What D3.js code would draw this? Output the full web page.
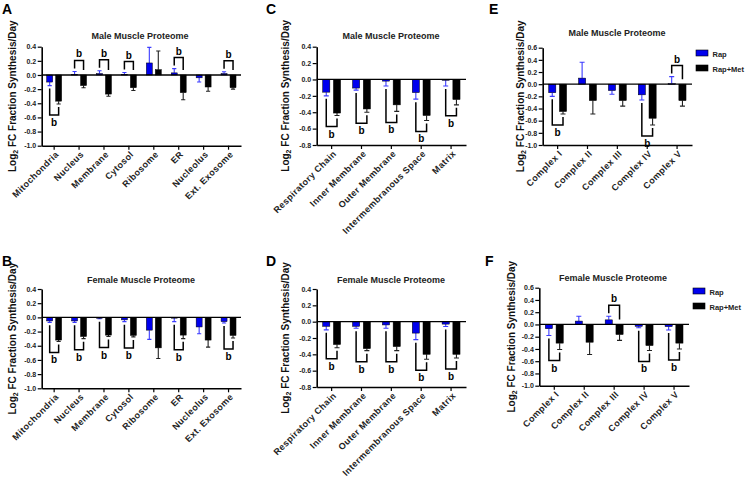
<!DOCTYPE html>
<html>
<head>
<meta charset="utf-8">
<script src="https://cdn.jsdelivr.net/npm/d3@7"></script>
<style>
body { margin: 0; background: #fff; }
svg { font-family: "Liberation Sans", Arial, sans-serif; }
</style>
</head>
<body>
<div id="chart"></div>
<script>

// categories
const organelles = ["Mitochondria", "Nucleus", "Membrane", "Cytosol", "Ribosome", "ER", "Nucleolus", "Ext. Exosome"]
const mitoParts = ["Respiratory Chain", "Inner Membrane", "Outer Membrane", "Intermembranous Space", "Matrix"]
const complexes = ["Complex I", "Complex II", "Complex III", "Complex IV", "Complex V"]
const seriesNames = ["Rap", "Rap+Met"]

// A - male, organelles
const maleOrgRap = [-0.10, 0.01, 0.02, 0.01, 0.17, 0.03, -0.04, 0.02]
const maleOrgRapErr = [0.05, 0.04, 0.04, 0.025, 0.22, 0.06, 0.06, 0.025]
const maleOrgMet = [-0.37, -0.15, -0.27, -0.18, 0.075, -0.25, -0.17, -0.18]
const maleOrgMetErr = [0.04, 0.03, 0.03, 0.04, 0.265, 0.10, 0.06, 0.02]
const maleOrgSig = [1, 1, 1, 1, 0, 1, 0, 1]

// B - female, organelles
const femOrgRap = [-0.05, -0.05, -0.01, -0.035, -0.18, -0.01, -0.135, -0.06]
const femOrgRapErr = [0.02, 0.02, 0.01, 0.025, 0.13, 0.05, 0.095, 0.02]
const femOrgMet = [-0.32, -0.27, -0.25, -0.255, -0.43, -0.25, -0.32, -0.255]
const femOrgMetErr = [0.02, 0.03, 0.02, 0.02, 0.15, 0.05, 0.10, 0.035]
const femOrgSig = [1, 1, 1, 1, 0, 1, 0, 1]

// C - male, mitochondrial compartments
const maleMitoRap = [-0.155, -0.105, -0.02, -0.16, -0.01]
const maleMitoRapErr = [0.045, 0.025, 0.06, 0.08, 0.07]
const maleMitoMet = [-0.41, -0.36, -0.31, -0.44, -0.245]
const maleMitoMetErr = [0.03, 0.04, 0.08, 0.06, 0.065]
const maleMitoSig = [1, 1, 1, 1, 1]

// D - female, mitochondrial compartments
const femMitoRap = [-0.057, -0.057, -0.04, -0.14, -0.03]
const femMitoRapErr = [0.043, 0.023, 0.04, 0.08, 0.03]
const femMitoMet = [-0.28, -0.33, -0.305, -0.40, -0.40]
const femMitoMetErr = [0.04, 0.025, 0.05, 0.06, 0.045]
const femMitoSig = [1, 1, 1, 1, 1]

// E - male, ETC complexes
const maleCxRap = [-0.14, 0.10, -0.105, -0.175, 0.01]
const maleCxRapErr = [0.06, 0.26, 0.06, 0.085, 0.115]
const maleCxMet = [-0.45, -0.27, -0.27, -0.56, -0.27]
const maleCxMetErr = [0.04, 0.22, 0.09, 0.11, 0.09]
const maleCxSig = [1, 0, 0, 1, 1]

// F - female, ETC complexes
const femCxRap = [-0.07, 0.055, 0.075, -0.03, -0.035]
const femCxRapErr = [0.11, 0.08, 0.06, 0.025, 0.055]
const femCxMet = [-0.305, -0.29, -0.165, -0.345, -0.305]
const femCxMetErr = [0.105, 0.20, 0.095, 0.08, 0.095]
const femCxSig = [1, 0, 1, 1, 1]

const blue = "#0000ee"
const blueErr = "#3c3cff"

const svg = d3.select("#chart").append("svg")
    .attr("width", 746)
    .attr("height", 479)

const panels = [
    {letter: "A", lx: 2, ly: 14, title: "Male Muscle Proteome", tx: 140, ty: 39,
     cats: organelles, rap: maleOrgRap, rapErr: maleOrgRapErr, met: maleOrgMet, metErr: maleOrgMetErr, sig: maleOrgSig,
     x0: 41.7, x1: 241, yTop: 46.7, yBot: 145.7, lo: -1.0, hi: 0.4, labX: 16},
    {letter: "B", lx: 2, ly: 266, title: "Female Muscle Proteome", tx: 141, ty: 283,
     cats: organelles, rap: femOrgRap, rapErr: femOrgRapErr, met: femOrgMet, metErr: femOrgMetErr, sig: femOrgSig,
     x0: 41.7, x1: 241, yTop: 289, yBot: 388.3, lo: -1.0, hi: 0.4, labX: 16},
    {letter: "C", lx: 266, ly: 14, title: "Male Muscle Proteome", tx: 391, ty: 39,
     cats: mitoParts, rap: maleMitoRap, rapErr: maleMitoRapErr, met: maleMitoMet, metErr: maleMitoMetErr, sig: maleMitoSig,
     x0: 316.7, x1: 466, yTop: 46.7, yBot: 145, lo: -0.8, hi: 0.4, labX: 289},
    {letter: "D", lx: 266, ly: 266, title: "Female Muscle Proteome", tx: 391, ty: 283,
     cats: mitoParts, rap: femMitoRap, rapErr: femMitoRapErr, met: femMitoMet, metErr: femMitoMetErr, sig: femMitoSig,
     x0: 316.7, x1: 466, yTop: 289, yBot: 387, lo: -0.8, hi: 0.4, labX: 289},
    {letter: "E", lx: 489, ly: 14, title: "Male Muscle Proteome", tx: 617, ty: 36,
     cats: complexes, rap: maleCxRap, rapErr: maleCxRapErr, met: maleCxMet, metErr: maleCxMetErr, sig: maleCxSig,
     x0: 542.7, x1: 692, yTop: 47.7, yBot: 145, lo: -1.0, hi: 0.6, labX: 524,
     legend: {x: 696, y: 50}},
    {letter: "F", lx: 485, ly: 266, title: "Female Muscle Proteome", tx: 613, ty: 281,
     cats: complexes, rap: femCxRap, rapErr: femCxRapErr, met: femCxMet, metErr: femCxMetErr, sig: femCxSig,
     x0: 539.3, x1: 689, yTop: 287.7, yBot: 385.7, lo: -1.0, hi: 0.6, labX: 515,
     legend: {x: 693, y: 288}}
]

const drawPanel = function(p) {
    const g = svg.append("g")

    const x = d3.scaleBand().domain(p.cats).range([p.x0, p.x1])
    const y = d3.scaleLinear().domain([p.lo, p.hi]).range([p.yBot, p.yTop])
    const bw = x.bandwidth()
    const w = bw * 0.24, gap = bw * 0.12

    g.append("text")
        .attr("x", p.lx).attr("y", p.ly)
        .style("font-size", "14px").style("font-weight", "bold")
        .text(p.letter)

    g.append("text")
        .attr("x", p.tx).attr("y", p.ty)
        .attr("text-anchor", "middle")
        .style("font-size", "9px").style("font-weight", "bold").style("fill", "#222")
        .text(p.title)

    // y axis label with subscript
    const yl = g.append("text")
        .attr("transform", "translate(" + p.labX + "," + ((p.yTop + p.yBot) / 2) + ") rotate(-90)")
        .attr("text-anchor", "middle")
        .style("font-size", "10px").style("font-weight", "bold").style("fill", "#111")
    yl.append("tspan").text("Log")
    yl.append("tspan").attr("dy", 2).style("font-size", "7px").text("2")
    yl.append("tspan").attr("dy", -2).text(" FC Fraction  Synthesis/Day")

    const ticks = d3.range(Math.round(p.lo * 5), Math.round(p.hi * 5) + 1).map(i => i / 5)
    const yAxis = g.append("g")
        .attr("transform", "translate(" + p.x0 + ",0)")
        .call(d3.axisLeft(y).tickValues(ticks).tickFormat(d => d.toFixed(1)).tickSize(4).tickSizeOuter(0).tickPadding(1.5))
    yAxis.select(".domain").attr("stroke-width", 1.6)
    yAxis.selectAll(".tick line").attr("stroke-width", 1.2)
    yAxis.selectAll(".tick text").style("font-size", "7px").style("font-weight", "bold")
        .style("font-family", "'Liberation Sans', Arial, sans-serif").attr("fill", "#222")

    const xAxis = g.append("g")
        .attr("transform", "translate(0," + p.yBot + ")")
        .call(d3.axisBottom(x).tickSize(4).tickSizeOuter(0))
    xAxis.select(".domain").attr("stroke-width", 1.6)
    xAxis.selectAll(".tick line").attr("stroke-width", 1.2)
    xAxis.selectAll(".tick text").remove()

    g.selectAll(".catLabel")
        .data(p.cats)
        .enter().append("text")
        .attr("class", "catLabel")
        .attr("transform", d => "translate(" + (x(d) + bw / 2 + 3) + "," + (p.yBot + 7) + ") rotate(-45)")
        .attr("text-anchor", "end")
        .attr("dy", "0.35em")
        .style("font-size", "9px").style("font-weight", "bold").style("fill", "#222")
        .style("letter-spacing", "0.4px")
        .text(d => d)

    const rows = p.cats.map((c, i) => ({
        cat: c, rap: p.rap[i], rapErr: p.rapErr[i], met: p.met[i], metErr: p.metErr[i], sig: p.sig[i]
    }))

    const series = [
        {key: "rap", err: "rapErr", fill: blue, errColor: blueErr, off: -gap / 2 - w},
        {key: "met", err: "metErr", fill: "#000", errColor: "#222", off: gap / 2}
    ]

    series.forEach(function(s) {
        // error bars go away from zero
        g.selectAll(".err-" + s.key)
            .data(rows)
            .enter().append("path")
            .attr("fill", "none")
            .attr("stroke", s.errColor)
            .attr("stroke-width", 1.1)
            .attr("d", function(d) {
                const v = d[s.key], e = d[s.err] * (v < 0 ? -1 : 1)
                const cx = x(d.cat) + bw / 2 + s.off + w / 2
                const ye = y(v + e)
                return "M" + cx + "," + y(v) + "V" + ye + "M" + (cx - w * 0.35) + "," + ye + "H" + (cx + w * 0.35)
            })

        g.selectAll(".bar-" + s.key)
            .data(rows)
            .enter().append("rect")
            .attr("x", d => x(d.cat) + bw / 2 + s.off)
            .attr("width", w)
            .attr("y", d => y(Math.max(0, d[s.key])))
            .attr("height", d => Math.max(0.8, Math.abs(y(d[s.key]) - y(0))))
            .attr("fill", s.fill)
            .attr("stroke", "#000")
            .attr("stroke-width", 0.5)
    })

    g.append("line")
        .attr("x1", p.x0).attr("x2", p.x1)
        .attr("y1", y(0)).attr("y2", y(0))
        .attr("stroke", "#000").attr("stroke-width", 1.3)

    // significance brackets
    rows.filter(d => d.sig).forEach(function(d) {
        const c = x(d.cat) + bw / 2
        const lx = c - gap / 2 - w / 2, rx = c + gap / 2 + w / 2
        let path, ty
        if (d.rap >= 0) {
            const le = y(d.rap + d.rapErr) - 3
            const re = d.met >= 0 ? y(d.met + d.metErr) - 3 : y(0) - 5
            const lvl = Math.min(le, re) - 8
            path = "M" + lx + "," + le + "V" + lvl + "H" + rx + "V" + re
            ty = lvl - 3
        } else {
            const le = y(d.rap - d.rapErr) + 3
            const re = y(d.met - d.metErr) + 3
            const lvl = Math.max(le, re) + 8
            path = "M" + lx + "," + le + "V" + lvl + "H" + rx + "V" + re
            ty = lvl + 11
        }
        g.append("path").attr("d", path)
            .attr("fill", "none").attr("stroke", "#000").attr("stroke-width", 1.5)
        g.append("text")
            .attr("x", c).attr("y", ty)
            .attr("text-anchor", "middle")
            .style("font-size", "10px").style("font-weight", "bold")
            .text("b")
    })

    if (p.legend) {
        const lg = g.selectAll(".legendItem")
            .data(series)
            .enter().append("g")
            .attr("transform", (d, i) => "translate(" + p.legend.x + "," + (p.legend.y + i * 15) + ")")
        lg.append("rect")
            .attr("width", 12).attr("height", 6)
            .attr("fill", d => d.fill).attr("stroke", "#000").attr("stroke-width", 0.6)
        lg.append("text")
            .attr("x", 16.5).attr("y", 6.5)
            .style("font-size", "7.5px").style("font-weight", "bold").style("fill", "#222")
            .text((d, i) => seriesNames[i])
    }
}

panels.forEach(drawPanel)

</script>
</body>
</html>
